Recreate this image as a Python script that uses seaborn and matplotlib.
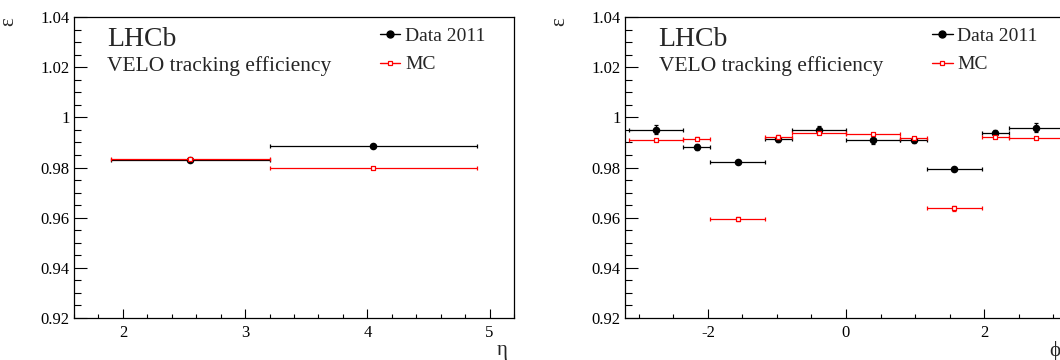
import matplotlib
matplotlib.use("Agg")
import matplotlib.pyplot as plt
from matplotlib.lines import Line2D
from matplotlib.ticker import MultipleLocator
import pandas as pd
import seaborn as sns

# VELO tracking efficiency vs eta
eta_edges = [1.9, 3.2, 4.9]
eta_centres = [2.55, 4.05]
eta_data = [0.9831, 0.9885]
eta_data_err = [0.0003, 0.0003]
eta_mc = [0.9832, 0.9797]
eta_mc_err = [0.0002, 0.0002]

# VELO tracking efficiency vs phi (bins of pi/8 and pi/4)
phi_edges = [-3.1416, -2.3562, -1.9635, -1.1781, -0.7854, 0.0,
             0.7854, 1.1781, 1.9635, 2.3562, 3.1416]
phi_centres = [-2.75, -2.16, -1.57, -0.98, -0.39, 0.39, 0.98, 1.57, 2.16, 2.75]
phi_data = [0.9951, 0.9883, 0.9821, 0.9915, 0.9951,
            0.9909, 0.9909, 0.9796, 0.9938, 0.9958]
phi_data_err = [0.0018, 0.0012, 0.0004, 0.0012, 0.0016,
                0.0016, 0.0010, 0.0005, 0.0012, 0.0018]
phi_mc = [0.9911, 0.9914, 0.9595, 0.9923, 0.9938,
          0.9934, 0.9918, 0.9637, 0.9922, 0.9917]
phi_mc_err = [0.0003, 0.0006, 0.0009, 0.0005, 0.0004,
              0.0003, 0.0005, 0.0009, 0.0005, 0.0003]

sns.set_theme(style="ticks")
plt.rcParams["font.family"] = ["Liberation Serif", "DejaVu Serif"]
plt.rcParams["axes.unicode_minus"] = False

RED = "#ff0000"


def xerr_from_edges(edges, centres):
    lo = [c - e for c, e in zip(centres, edges[:-1])]
    hi = [e - c for c, e in zip(centres, edges[1:])]
    return [lo, hi]


def draw_panel(ax, edges, centres, data, data_err, mc, mc_err,
               xlim, major, minor, xlabel):
    df = pd.DataFrame({"x": centres, "data": data, "mc": mc})
    xerr = xerr_from_edges(edges, centres)

    ax.errorbar(df["x"], df["data"], xerr=xerr, yerr=data_err, fmt="none",
                ecolor="black", elinewidth=0.9, capsize=1.5, capthick=0.9, zorder=2)
    sns.scatterplot(data=df, x="x", y="data", ax=ax, marker="o", s=30,
                    color="black", edgecolor="black", linewidth=0, zorder=3)
    ax.errorbar(df["x"], df["mc"], xerr=xerr, yerr=mc_err, fmt="none",
                ecolor=RED, elinewidth=0.9, capsize=1.5, capthick=0.9, zorder=4)
    sns.scatterplot(data=df, x="x", y="mc", ax=ax, marker="s", s=9,
                    color="white", edgecolor=RED, linewidth=0.9, zorder=5)

    ax.set_xlim(*xlim)
    ax.set_ylim(0.92, 1.04)
    ax.xaxis.set_major_locator(MultipleLocator(major))
    ax.xaxis.set_minor_locator(MultipleLocator(minor))
    ax.yaxis.set_major_locator(MultipleLocator(0.02))
    ax.yaxis.set_minor_locator(MultipleLocator(0.005))
    ax.yaxis.set_major_formatter(plt.FuncFormatter(lambda v, p: f"{v:g}"))
    ax.xaxis.set_major_formatter(plt.FuncFormatter(lambda v, p: f"{v:g}"))

    ax.tick_params(axis="both", which="both", direction="in", colors="black",
                   labelsize=12, width=0.8, pad=3)
    ax.tick_params(axis="y", which="major", length=9.5)
    ax.tick_params(axis="y", which="minor", length=5)
    ax.tick_params(axis="x", which="major", length=6.5, pad=5)
    ax.tick_params(axis="x", which="minor", length=3.2)
    for s in ax.spines.values():
        s.set_visible(True)
        s.set_color("black")
        s.set_linewidth(0.9)

    ax.set_ylabel("ε", fontsize=15, loc="top")
    ax.yaxis.set_label_coords(-0.127, 1.0)
    ax.set_xlabel(xlabel, fontsize=15, loc="right")
    ax.xaxis.set_label_coords(0.985, -0.075)

    ax.text(0.076, 0.903, "LHCb", transform=ax.transAxes, fontsize=20,
            ha="left", va="baseline")
    ax.text(0.076, 0.822, "VELO tracking efficiency", transform=ax.transAxes,
            fontsize=15.5, ha="left", va="baseline")

    handles = [
        Line2D([0], [0], color="black", lw=1, marker="o", markersize=5),
        Line2D([0], [0], color=RED, lw=1, marker="s", markersize=3,
               markerfacecolor="white", markeredgecolor=RED, markeredgewidth=0.9),
    ]
    ax.legend(handles, ["Data 2011", "MC"], loc="upper left",
              bbox_to_anchor=(0.695, 0.965), frameon=False, fontsize=14,
              handlelength=1.05, handletextpad=0.25, labelspacing=0.55,
              borderpad=0, borderaxespad=0)


fig = plt.figure(figsize=(10.6, 3.6), dpi=100)
ax_eta = fig.add_axes([74 / 1060, 1 - 318 / 360, 440 / 1060, 301 / 360])
ax_phi = fig.add_axes([625 / 1060, 1 - 318 / 360, 442 / 1060, 301 / 360])

draw_panel(ax_eta, eta_edges, eta_centres, eta_data, eta_data_err,
           eta_mc, eta_mc_err, (1.6, 5.2), 1, 0.2, "η")
draw_panel(ax_phi, phi_edges, phi_centres, phi_data, phi_data_err,
           phi_mc, phi_mc_err, (-3.2, 3.2), 2, 0.5, "ϕ")

fig.savefig("out.png", dpi=100, facecolor="white")
